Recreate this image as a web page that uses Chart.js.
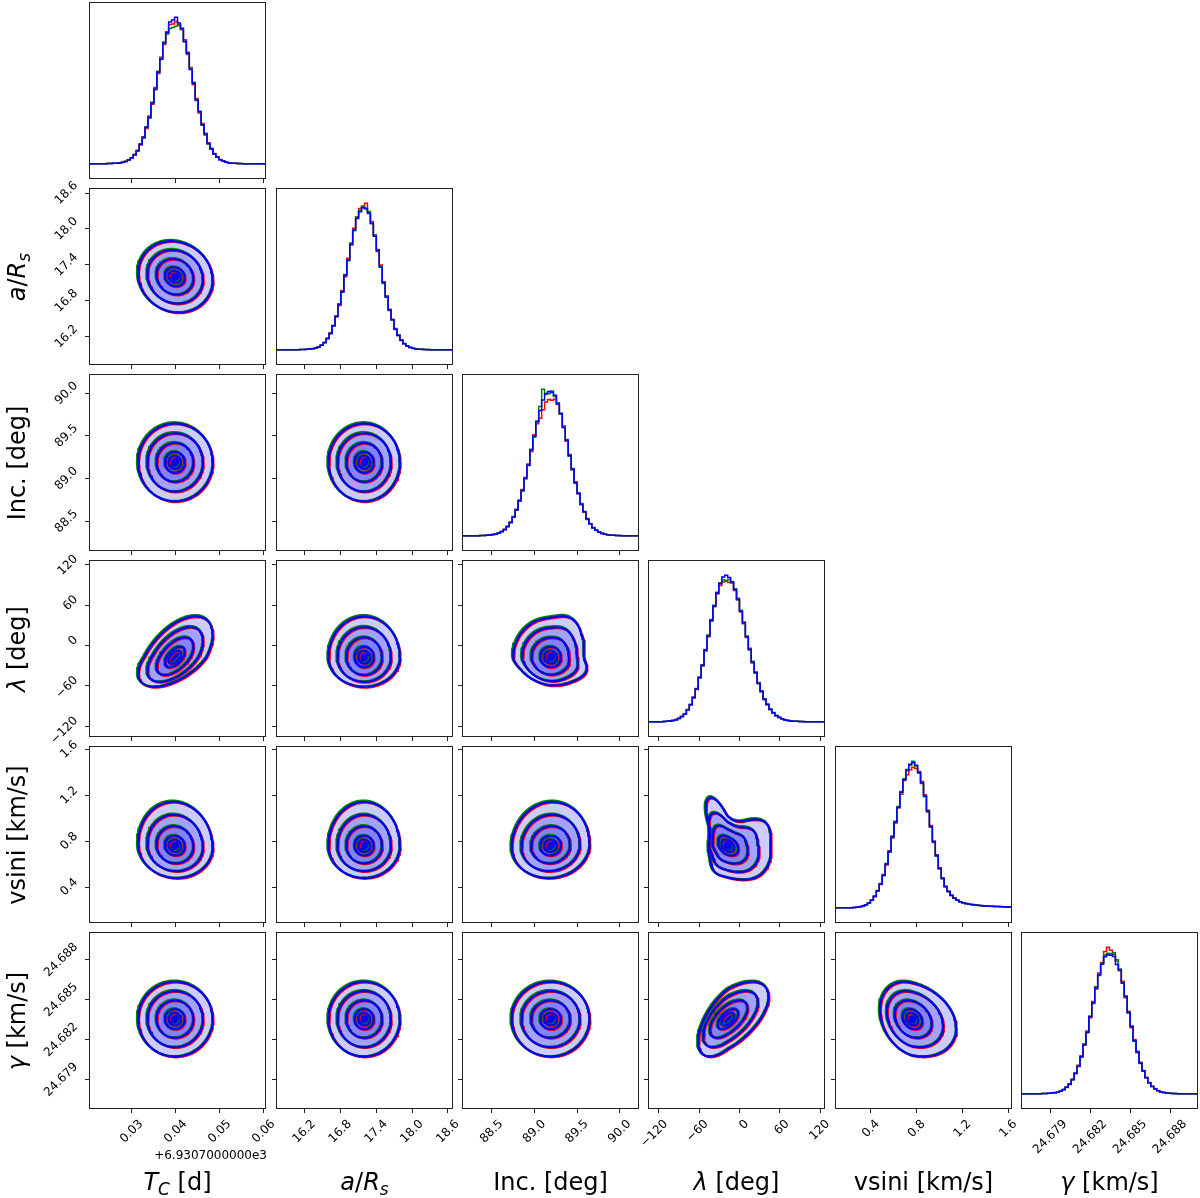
<!DOCTYPE html>
<html>
<head>
<meta charset="utf-8">
<script src="https://cdn.jsdelivr.net/npm/chart.js@4.4.1/dist/chart.umd.min.js"></script>
<style>
  html, body { margin:0; padding:0; background:#fff; }
  body { width:1200px; height:1198px; position:relative; overflow:hidden; font-family:'DejaVu Sans', sans-serif; color:#000; }
  .panel { position:absolute; }
  .panel canvas { display:block; }
  .title { position:absolute; font-size:24px; line-height:28px; height:28px; width:186px; text-align:center; white-space:nowrap; }
  .title sub { font-size:17px; vertical-align:-5px; line-height:0; }
  .ytitle { transform:rotate(-90deg); transform-origin:50% 50%; }
  .offset { position:absolute; right:933px; top:1148px; font-size:12px; line-height:14px; white-space:nowrap; }
</style>
</head>
<body>
<script>
// ---------------- DATA ----------------
const paramNames = ['Tc', 'aRs', 'inc', 'lambda', 'vsini', 'gamma'];
const axisMin = [0.0203, 15.727, 88.152, -135.8, 0.086, 24.6768];
const axisMax = [0.0605, 18.684, 90.226, 126.8, 1.632, 24.6901];
const tickValues = [
  [0.03, 0.04, 0.05, 0.06],
  [16.2, 16.8, 17.4, 18.0, 18.6],
  [88.5, 89.0, 89.5, 90.0],
  [-120, -60, 0, 60, 120],
  [0.4, 0.8, 1.2, 1.6],
  [24.679, 24.682, 24.685, 24.688]
];
const tickLabels = [
  ['0.03', '0.04', '0.05', '0.06'],
  ['16.2', '16.8', '17.4', '18.0', '18.6'],
  ['88.5', '89.0', '89.5', '90.0'],
  ['\u2212120', '\u221260', '0', '60', '120'],
  ['0.4', '0.8', '1.2', '1.6'],
  ['24.679', '24.682', '24.685', '24.688']
];
const offsetText = '+6.9307000000e3';

// Histograms (60 bins spanning each axis range), relative counts
const histTcRed = [0,0,0,0,0,0,0.1,0.1,0.2,0.3, 0.6,0.8,1.6,2.4,4.1,5.8,9.1,12.7,18.4,24.1, 32.5,40.6,52.1,61.6,72.8,81.4,90.2,95.1,95.4,97.2, 94.8,91.6,84.7,74.6,65.8,53.9,44.6,34.7,27.4,19.6, 14.3,9.8,7.0,4.4,2.9,1.7,1.1,0.5,0.3,0.2, 0.1,0,0,0,0,0,0,0,0,0];
const histTcGreen = [0,0,0,0,0,0,0.1,0.1,0.2,0.3, 0.5,1.0,1.4,2.7,3.8,6.3,8.8,13.6,17.5,25.2, 31.2,41.9,50.5,63.1,71.2,83.1,88.6,92.4,93.1,94.0, 95.2,91.8,83.1,76.2,64.9,55.6,43.1,35.9,26.2,20.8, 13.5,10.5,6.4,4.7,2.6,1.9,1.0,0.6,0.3,0.2, 0.1,0.1,0,0,0,0,0,0,0,0];
const histTcBlue = [0,0,0,0,0,0,0.1,0.1,0.2,0.3, 0.5,0.9,1.5,2.6,3.9,6.2,8.7,13.2,17.8,24.8, 31.6,41.4,51.0,62.5,71.6,82.5,89.4,96.8,98.2,100, 96.1,92.5,83.6,75.4,64.3,55.0,43.5,35.4,26.6,20.3, 13.8,10.2,6.6,4.6,2.7,1.8,1.0,0.6,0.3,0.2, 0.1,0.1,0,0,0,0,0,0,0,0];

const histARsRed = [0,0,0,0,0,0,0,0,0.1,0.1, 0.2,0.3,0.7,1.0,1.8,3.2,4.9,7.4,11.5,16.0, 23.1,30.2,40.5,49.9,62.4,71.5,83.0,90.3,96.5,98.1, 100,94.0,87.6,78.4,68.5,57.9,46.4,36.9,27.6,20.7, 14.5,9.6,6.7,4.0,2.6,1.4,0.9,0.5,0.3,0.1, 0.1,0,0,0,0,0,0,0,0,0];
const histARsGreen = [0,0,0,0,0,0,0,0,0.1,0.1, 0.2,0.4,0.6,1.2,1.8,3.1,4.7,7.8,10.8,16.4, 22.6,31.4,39.2,51.3,60.8,72.9,81.9,90.8,95.1,98.0, 96.2,94.4,86.0,78.2,67.1,57.0,45.3,36.3,26.8,20.5, 13.8,10.1,6.3,4.2,2.4,1.6,0.8,0.5,0.3,0.2, 0.1,0.1,0,0,0,0,0,0,0,0];
const histARsBlue = [0,0,0,0,0,0,0,0,0.1,0.1, 0.2,0.4,0.6,1.1,1.9,3.0,4.8,7.7,11.0,16.5, 22.4,30.9,39.6,50.8,61.2,72.1,81.4,89.6,94.2,97.0, 96.6,93.1,86.4,77.5,67.8,56.4,45.9,35.8,27.1,20.2, 14.1,9.7,6.4,4.1,2.5,1.5,0.9,0.5,0.3,0.2, 0.1,0.1,0,0,0,0,0,0,0,0];

const histIncRed = [0,0,0,0,0,0,0.1,0.1,0.2,0.4, 0.6,1.2,1.7,2.9,4.3,6.0,9.3,12.6,18.0,23.5, 31.5,38.8,49.0,57.6,68.9,76.5,80.2,86.1,91.4,93.0, 92.6,93.2,89.6,83.1,74.9,64.6,55.5,44.9,36.8,28.4, 21.9,16.0,11.7,8.0,5.6,3.6,2.5,1.4,0.9,0.5, 0.3,0.2,0.1,0,0,0,0,0,0,0];
const histIncGreen = [0,0,0,0,0,0,0.1,0.1,0.2,0.4, 0.7,1.0,1.9,2.7,4.2,6.4,8.8,13.1,17.4,24.3, 30.5,39.8,47.9,59.0,67.5,78.4,88.3,100,96.5,97.2, 98.9,95.1,90.9,83.0,73.8,65.7,54.3,45.9,35.9,29.2, 21.1,16.5,11.1,8.3,5.3,3.8,2.3,1.6,0.9,0.6, 0.3,0.2,0.1,0.1,0,0,0,0,0,0];
const histIncBlue = [0,0,0,0,0,0,0.1,0.1,0.2,0.4, 0.7,1.1,1.8,2.8,4.1,6.2,9.0,12.8,17.6,23.9, 30.8,39.4,48.2,58.5,68.0,77.9,85.6,92.7,97.1,98.5, 98.0,95.9,90.2,83.7,74.1,65.2,54.8,45.5,36.2,28.9, 21.4,16.3,11.3,8.2,5.4,3.7,2.4,1.5,0.9,0.6, 0.3,0.2,0.1,0.1,0,0,0,0,0,0];

const histLambdaRed = [0,0,0,0,0,0.1,0.2,0.4,0.7,1.4, 2.1,3.6,5.1,8.3,11.4,16.8,22.0,30.6,38.1,49.4, 58.1,69.8,78.5,87.2,93.1,95.4,96.0,95.2,94.8,89.6, 84.3,74.9,68.1,57.5,50.1,40.1,34.0,25.9,21.1,15.0, 12.1,8.2,6.3,4.0,3.0,1.8,1.3,0.7,0.5,0.3, 0.2,0.1,0,0,0,0,0,0,0,0];
const histLambdaGreen = [0,0,0,0,0,0.1,0.2,0.4,0.8,1.2, 2.3,3.4,5.4,7.9,11.9,16.2,22.6,29.8,38.9,48.3, 59.2,68.7,79.6,88.5,94.9,97.0,96.3,97.1,95.1,90.8, 83.2,76.1,66.9,58.6,48.9,41.2,33.1,26.8,20.3,15.7, 11.5,8.7,5.9,4.3,2.8,2.0,1.2,0.8,0.5,0.3, 0.2,0.1,0.1,0,0,0,0,0,0,0];
const histLambdaBlue = [0,0,0,0,0,0.1,0.2,0.4,0.8,1.3, 2.2,3.5,5.3,8.1,11.6,16.5,22.3,30.2,38.5,48.9, 58.6,69.3,79.1,88.0,94.2,98.9,100,98.5,95.7,90.1, 83.8,75.4,67.5,58.0,49.5,40.6,33.6,26.3,20.7,15.3, 11.8,8.4,6.1,4.1,2.9,1.9,1.2,0.8,0.5,0.3, 0.2,0.1,0.1,0,0,0,0,0,0,0];

const histVsiniRed = [0,0,0,0,0,0,0.1,0.3,0.7,1.0, 2.0,3.1,5.3,7.5,11.8,15.9,22.6,29.1,38.9,47.6, 57.8,68.1,77.6,86.9,90.8,94.2,96.0,95.1,93.0,86.3, 77.1,65.4,56.2,44.6,36.1,26.5,20.4,14.1,11.3,8.2, 6.7,5.0,4.1,3.3,2.9,2.3,2.1,1.9,1.5,1.4, 1.3,1.1,0.9,0.9,0.8,0.7,0.7,0.6,0.5,0.5];
const histVsiniGreen = [0,0,0,0,0,0,0.1,0.3,0.6,1.2, 1.8,3.3,5.0,8.0,11.3,16.5,21.8,30.1,37.9,48.9, 59.0,69.2,79.4,88.1,94.5,97.3,100,96.8,91.9,84.9, 75.8,66.6,55.0,45.5,35.2,27.3,19.7,14.6,10.8,8.5, 6.4,5.2,3.9,3.4,2.7,2.5,2.0,1.8,1.6,1.3, 1.2,1.0,1.0,0.8,0.8,0.7,0.6,0.5,0.5,0.4];
const histVsiniBlue = [0,0,0,0,0,0,0.1,0.3,0.6,1.1, 1.9,3.2,5.1,7.8,11.5,16.2,22.1,29.8,38.3,48.4, 58.4,68.7,78.9,87.4,93.8,98.1,99.0,97.4,92.6,85.4, 76.3,66.0,55.5,45.0,35.6,26.9,20.0,14.4,11.0,8.4, 6.5,5.1,4.0,3.4,2.8,2.4,2.1,1.8,1.6,1.4, 1.2,1.1,1.0,0.9,0.8,0.7,0.6,0.6,0.5,0.5];

const histGammaRed = [0,0,0,0,0,0,0,0.1,0.1,0.2, 0.3,0.7,0.9,1.8,2.7,4.5,6.3,9.9,13.6,19.4, 25.9,33.1,42.9,51.8,63.0,71.6,82.4,89.7,97.2,100, 98.1,95.2,90.6,84.0,76.8,65.5,56.4,45.1,37.0,28.0, 21.5,15.3,11.2,7.2,5.1,3.1,2.1,1.1,0.7,0.4, 0.2,0.1,0,0,0,0,0,0,0,0];
const histGammaGreen = [0,0,0,0,0,0,0,0.1,0.1,0.2, 0.4,0.6,1.1,1.7,2.9,4.2,6.7,9.4,14.1,18.6, 25.0,34.0,41.7,53.0,61.6,73.0,80.7,88.9,94.8,96.0, 95.7,96.3,91.5,85.2,75.9,66.8,55.6,46.3,35.8,28.9, 20.6,15.9,10.9,7.6,4.8,3.4,1.9,1.3,0.7,0.4, 0.2,0.1,0.1,0,0,0,0,0,0,0];
const histGammaBlue = [0,0,0,0,0,0,0,0.1,0.1,0.2, 0.4,0.6,1.0,1.7,2.8,4.3,6.5,9.6,13.9,18.8, 25.3,33.6,42.0,52.5,62.1,72.3,81.2,88.4,93.6,95.0, 94.6,93.8,88.2,84.6,75.5,66.4,55.2,45.9,36.1,28.5, 21.0,15.7,10.8,7.5,4.9,3.3,2.0,1.2,0.7,0.4, 0.2,0.1,0.1,0,0,0,0,0,0,0];

const histograms = [
  [histTcRed, histTcGreen, histTcBlue],
  [histARsRed, histARsGreen, histARsBlue],
  [histIncRed, histIncGreen, histIncBlue],
  [histLambdaRed, histLambdaGreen, histLambdaBlue],
  [histVsiniRed, histVsiniGreen, histVsiniBlue],
  [histGammaRed, histGammaGreen, histGammaBlue]
];

// Posterior summary
const means = [0.0398, 17.20, 89.19, -17.5, 0.76, 24.68355];
const sds = [0.00386, 0.276, 0.211, 26.7, 0.148, 0.0013];
const skewPos = [1.03, 1.0, 1.0, 1.05, 1.2, 1.0];
const skewNeg = [1.0, 1.0, 1.0, 0.76, 0.88, 1.0];
const correlations = [
  [],
  [-0.1],
  [0.0, 0.0],
  [0.55, 0.0, 0.0],
  [-0.05, 0.0, 0.05, -0.35],
  [0.0, 0.0, 0.0, 0.6, -0.25]
];
// outer-contour radial shape factors every 30 degrees
const shapeVsiniLambda = [1.12, 1.3, 0.78, 0.72, 1.12, 0.62, 0.7, 0.85, 1.12, 1.05, 1.05, 1.02];
const shapeLambdaInc = [0.86, 0.95, 1.09, 0.97, 0.96, 0.96, 0.96, 0.87, 0.88, 0.95, 0.99, 1.04];
const panelShapes = { '4-3': shapeVsiniLambda, '3-2': shapeLambdaInc };
const contourLevels = [2.16, 1.62, 1.08, 0.58, 0.36];
const chains = ['red', 'green', 'blue'];
const chainShift = { red: [0.05, -0.045], green: [-0.045, 0.05], blue: [0, 0] };
const chainScale = { red: 1.0, green: 1.012, blue: 1.0 };

const axisTitles = [
  '<i>T</i><sub><i>C</i></sub> [d]',
  '<i>a</i>/<i>R</i><sub><i>s</i></sub>',
  'Inc. [deg]',
  '<i>\u03bb</i> [deg]',
  'vsini [km/s]',
  '<i>\u03b3</i> [km/s]'
];

// ---------------- LAYOUT / STYLE ----------------
const colLeft = [89, 276, 462, 648, 835, 1021];
const rowTop = [2, 188, 374, 560, 746, 932];
const SIZE = 177;
const PAD_T = 14, PAD_R = 16;
const lineColors = { red: '#ff0000', green: '#008000', blue: '#0000ff' };
const fillColors = ['#ccccff', '#a3a3ff', '#8383ff', '#6969ff', '#0000ff'];
const xLabelShift = [9.45, 9.45, 9.45, 7.4, 6.75, 14.8];
const yLabelShift = [9.45, 9.45, 9.45, 7.4, 6.75, 14.8];

Chart.defaults.font.family = "'DejaVu Sans', 'Liberation Sans', sans-serif";
Chart.defaults.font.size = 12;
Chart.defaults.color = '#000';
Chart.defaults.animation = false;

const boxPlugin = {
  id: 'panelBox',
  afterDatasetsDraw(chart) {
    const { ctx, chartArea: a } = chart;
    ctx.save();
    ctx.strokeStyle = '#222';
    ctx.lineWidth = 1;
    ctx.strokeRect(a.left + 0.5, a.top + 0.5, a.right - a.left - 1, a.bottom - a.top - 1);
    ctx.restore();
  }
};

function gridOpts() {
  return { drawOnChartArea: false, drawTicks: true, tickLength: 4, color: '#222', lineWidth: 1 };
}

function xScale(c, showLabels, padB) {
  return {
    type: 'linear', position: 'bottom', min: axisMin[c], max: axisMax[c],
    afterBuildTicks: s => { s.ticks = tickValues[c].map(v => ({ value: v })); },
    ticks: { display: showLabels, autoSkip: false, minRotation: 45, maxRotation: 45, padding: 4,
             labelOffset: xLabelShift[c], callback: (v, i) => tickLabels[c][i] },
    grid: gridOpts(), border: { display: false },
    afterFit: s => { s.height = padB; s.paddingLeft = 0; s.paddingRight = 0; s.paddingTop = 0; s.paddingBottom = 0; }
  };
}
function yScale(r, showLabels, padL) {
  return {
    type: 'linear', position: 'left', min: axisMin[r], max: axisMax[r],
    afterBuildTicks: s => { s.ticks = tickValues[r].map(v => ({ value: v })); },
    ticks: { display: showLabels, autoSkip: false, minRotation: 45, maxRotation: 45, padding: 9,
             labelOffset: -yLabelShift[r], callback: (v, i) => tickLabels[r][i] },
    grid: gridOpts(), border: { display: false },
    afterFit: s => { s.width = padL; s.paddingLeft = 0; s.paddingRight = 0; s.paddingTop = 0; s.paddingBottom = 0; }
  };
}

function histPoints(p, values) {
  const n = values.length, w = (axisMax[p] - axisMin[p]) / n;
  const pts = values.map((v, i) => ({ x: axisMin[p] + i * w, y: v }));
  pts.push({ x: axisMax[p], y: values[n - 1] });
  return pts;
}

function shapeFactor(shape, phi) {
  const n = shape.length, step = 2 * Math.PI / n;
  const a = phi < 0 ? phi + 2 * Math.PI : phi;
  const f = a / step, k = Math.floor(f) % n, t = f - Math.floor(f);
  const p0 = shape[(k - 1 + n) % n], p1 = shape[k], p2 = shape[(k + 1) % n], p3 = shape[(k + 2) % n];
  return 0.5 * (2 * p1 + (-p0 + p2) * t + (2 * p0 - 5 * p1 + 4 * p2 - p3) * t * t + (-p0 + 3 * p1 - 3 * p2 + p3) * t * t * t);
}

function contourPoints(r, c, level, chain) {
  const rho = correlations[r][c];
  const shape = panelShapes[r + '-' + c];
  const w = Math.pow(level / contourLevels[0], 1.5);
  const sh = chainShift[chain], k = chainScale[chain];
  const pts = [];
  const N = 96;
  for (let i = 0; i <= N; i++) {
    const t = 2 * Math.PI * i / N;
    const a = Math.cos(t) * level * k, b = Math.sin(t) * level * k;
    let u = a, v = rho * a + Math.sqrt(1 - rho * rho) * b;
    if (shape) {
      const g = 1 + (shapeFactor(shape, Math.atan2(v, u)) - 1) * w;
      u *= g; v *= g;
    }
    u *= 1 + ((u >= 0 ? skewPos[c] : skewNeg[c]) - 1) * w;
    v *= 1 + ((v >= 0 ? skewPos[r] : skewNeg[r]) - 1) * w;
    pts.push({ x: means[c] + sds[c] * (u + sh[0]), y: means[r] + sds[r] * (v + sh[1]) });
  }
  return pts;
}

function makePanel(r, c) {
  const isDiag = r === c;
  const showX = r === 5;
  const showY = c === 0 && !isDiag;
  const padL = isDiag ? 0 : (showY ? colLeft[0] : 6);
  const padB = showX ? 88 : 6;
  const W = padL + SIZE + PAD_R, H = PAD_T + SIZE + padB;
  const div = document.createElement('div');
  div.className = 'panel';
  div.style.left = (colLeft[c] - padL) + 'px';
  div.style.top = (rowTop[r] - PAD_T) + 'px';
  div.style.width = W + 'px';
  div.style.height = H + 'px';
  const cv = document.createElement('canvas');
  cv.width = W; cv.height = H;
  cv.style.width = W + 'px'; cv.style.height = H + 'px';
  div.appendChild(cv);
  document.body.appendChild(div);

  const datasets = [];
  let y;
  if (isDiag) {
    chains.forEach((ch, j) => {
      datasets.push({ data: histPoints(c, histograms[c][j]), showLine: true, stepped: true, fill: false,
        borderColor: lineColors[ch], borderWidth: 1.5, pointRadius: 0, order: 3 - j });
    });
    y = { display: false, min: -10.5, max: 110.5 };
  } else {
    let seq = 0;
    contourLevels.forEach((L, li) => {
      datasets.push({ data: contourPoints(r, c, L, 'blue'), showLine: true, fill: 'shape',
        backgroundColor: fillColors[li], borderColor: 'rgba(0,0,0,0)', borderWidth: 0, pointRadius: 0, order: -(seq++) });
    });
    chains.forEach(ch => {
      contourLevels.forEach(L => {
        datasets.push({ data: contourPoints(r, c, L, ch), showLine: true, fill: false,
          borderColor: lineColors[ch], borderWidth: 2.2, borderJoinStyle: 'round', borderCapStyle: 'round',
          pointRadius: 0, order: -(seq++) });
      });
    });
    y = yScale(r, showY, padL);
  }

  new Chart(cv, {
    type: 'scatter',
    data: { datasets },
    options: {
      responsive: false, animation: false, events: [],
      layout: { padding: { top: PAD_T, right: PAD_R, left: 0, bottom: 0 }, autoPadding: false },
      plugins: { legend: { display: false }, tooltip: { enabled: false } },
      scales: { x: xScale(c, showX, padB), y }
    },
    plugins: [boxPlugin]
  });
}

for (let r = 0; r < 6; r++) {
  for (let c = 0; c <= r; c++) makePanel(r, c);
}

// axis titles
for (let c = 0; c < 6; c++) {
  const d = document.createElement('div');
  d.className = 'title';
  d.innerHTML = axisTitles[c];
  d.style.left = (colLeft[c] + SIZE / 2 - 93) + 'px';
  d.style.top = '1168px';
  document.body.appendChild(d);
}
for (let r = 1; r < 6; r++) {
  const d = document.createElement('div');
  d.className = 'title ytitle';
  d.innerHTML = axisTitles[r];
  d.style.left = (16.7 - 93) + 'px';
  d.style.top = (rowTop[r] + SIZE / 2 - 14) + 'px';
  document.body.appendChild(d);
}
const off = document.createElement('div');
off.className = 'offset';
off.textContent = offsetText;
document.body.appendChild(off);
</script>
</body>
</html>
